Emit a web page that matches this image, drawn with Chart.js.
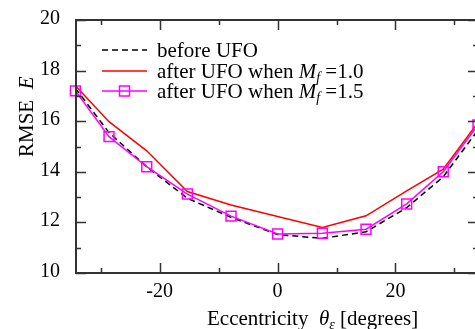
<!DOCTYPE html>
<html><head><meta charset="utf-8">
<script src="https://cdn.jsdelivr.net/npm/chart.js@4/dist/chart.umd.min.js"></script>
<style>html,body{margin:0;padding:0;background:#fff;overflow:hidden;width:475px;height:329px}canvas{display:block}</style>
</head><body>
<canvas id="c" width="478" height="329"></canvas>
<script>
const eccentricity = [-34.3, -28.6, -22.2, -15.3, -7.9, 0, 7.6, 15.0, 21.9, 28.1, 34.0];
const beforeUFO  = [17.3, 15.55, 14.2, 12.95, 12.2, 11.52, 11.37, 11.63, 12.58, 13.8, 15.65];
const afterMf10  = [17.4, 15.98, 14.83, 13.22, 12.69, 12.23, 11.8, 12.26, 13.25, 14.1, 15.95];
const afterMf15  = [17.2, 15.39, 14.2, 13.12, 12.25, 11.54, 11.57, 11.73, 12.73, 14.0, 15.85];
const xTicks = [-30, -20, -10, 0, 10, 20, 30];
const xTickLabels = ['', '-20', '', '0', '', '20', ''];
const yTicks = [10, 11, 12, 13, 14, 15, 16, 17, 18, 19, 20];
const yTickLabels = ['10', '', '12', '', '14', '', '16', '', '18', '', '20'];
const seriesNames = ['before UFO', 'after UFO when M_f =1.0', 'after UFO when M_f =1.5'];

const SERIF = "'Liberation Serif','Times New Roman',serif";
const AXIS = '#333';

function toXY(ys){ return eccentricity.map((x,i)=>({x, y: ys[i]})); }

function drawRich(ctx, x, y, parts){
  for (const p of parts){
    const size = p.size || 21;
    ctx.font = (p.italic ? 'italic ' : '') + size + 'px ' + SERIF;
    ctx.fillText(p.t, x, y + (p.dy || 0));
    x += ctx.measureText(p.t).width;
  }
}

const decor = {
  id: 'decor',
  afterDraw(chart){
    const ctx = chart.ctx, a = chart.chartArea;
    const xs = chart.scales.x, ys = chart.scales.y;
    ctx.save();
    ctx.strokeStyle = AXIS; ctx.lineWidth = 2; ctx.setLineDash([]);
    ctx.strokeRect(a.left, a.top, a.right - a.left, a.bottom - a.top);
    ctx.lineWidth = 1.5;
    ctx.fillStyle = '#000';
    ctx.font = '20px ' + SERIF;
    xTicks.forEach((v,i)=>{
      const px = Math.round(xs.getPixelForValue(v)) + 0.5;
      const len = xTickLabels[i] !== '' ? 10 : 5;
      ctx.beginPath();
      ctx.moveTo(px, a.bottom); ctx.lineTo(px, a.bottom - len);
      ctx.moveTo(px, a.top); ctx.lineTo(px, a.top + len);
      ctx.stroke();
      if (xTickLabels[i]){
        ctx.textAlign = 'center'; ctx.textBaseline = 'alphabetic';
        ctx.fillText(xTickLabels[i], xs.getPixelForValue(v), a.bottom + 24);
      }
    });
    yTicks.forEach((v,i)=>{
      const py = Math.round(ys.getPixelForValue(v)) + 0.5;
      const len = yTickLabels[i] !== '' ? 10 : 5;
      ctx.beginPath();
      ctx.moveTo(a.left, py); ctx.lineTo(a.left + len, py);
      ctx.moveTo(a.right, py); ctx.lineTo(a.right - len, py);
      ctx.stroke();
      if (yTickLabels[i]){
        ctx.textAlign = 'right'; ctx.textBaseline = 'alphabetic';
        ctx.fillText(yTickLabels[i], a.left - 16, ys.getPixelForValue(v) + 4);
      }
    });
    // legend
    ctx.textBaseline = 'alphabetic'; ctx.textAlign = 'left';
    const rows = [
      {y: 50, base: 57, color: '#000', dash: [6,4], marker: false},
      {y: 71, base: 77.5, color: '#ff0000', dash: [], marker: false},
      {y: 91, base: 98, color: '#ff00ff', dash: [], marker: true}
    ];
    rows.forEach((r, i)=>{
      ctx.strokeStyle = r.color; ctx.lineWidth = 1.5; ctx.setLineDash(r.dash);
      ctx.beginPath(); ctx.moveTo(102, r.y); ctx.lineTo(147, r.y); ctx.stroke();
      ctx.setLineDash([]);
      if (r.marker){ ctx.strokeRect(119.5, r.y - 5, 10, 10); }
      const name = seriesNames[i];
      if (name.indexOf('M_f') >= 0){
        const [pre, post] = name.split('M_f');
        drawRich(ctx, 157, r.base, [
          {t: pre}, {t: 'M', italic: true}, {t: 'f', italic: true, size: 14, dy: 4}, {t: post}
        ]);
      } else {
        drawRich(ctx, 157, r.base, [{t: name}]);
      }
    });
    // x title
    drawRich(ctx, 207, 325, [
      {t: 'Eccentricity  '}, {t: 'θ', italic: true}, {t: 'ε', italic: true, size: 14, dy: 4}, {t: ' [degrees]'}
    ]);
    // y title
    ctx.translate(33, 157); ctx.rotate(-Math.PI/2);
    drawRich(ctx, 0, 0, [{t: 'RMSE  '}, {t: 'E', italic: true}]);
    ctx.restore();
  }
};

new Chart(document.getElementById('c'), {
  type: 'line',
  data: {
    datasets: [
      {label: seriesNames[2], data: toXY(afterMf15), borderColor: '#ff00ff', borderWidth: 1.5,
       pointStyle: 'rect', pointRadius: 7, pointHoverRadius: 7, pointBorderColor: '#ff00ff',
       pointBackgroundColor: 'rgba(0,0,0,0)', pointBorderWidth: 1.5, order: 0},
      {label: seriesNames[1], data: toXY(afterMf10), borderColor: '#ff0000', borderWidth: 1.5,
       pointRadius: 0, order: 1},
      {label: seriesNames[0], data: toXY(beforeUFO), borderColor: '#000', borderWidth: 1.5,
       borderDash: [6,4], pointRadius: 0, order: 2}
    ]
  },
  options: {
    responsive: false, animation: false, devicePixelRatio: 1,
    clip: false,
    layout: {autoPadding: false, padding: {top: 20, right: 0, left: 76, bottom: 56}},
    plugins: {legend: {display: false}, tooltip: {enabled: false}},
    elements: {line: {tension: 0, fill: false}},
    scales: {
      x: {type: 'linear', min: -34.2, max: 34.0, display: false,
          afterBuildTicks: s => { s.ticks = xTicks.map(v => ({value: v})); }},
      y: {type: 'linear', min: 10, max: 20, display: false,
          afterBuildTicks: s => { s.ticks = yTicks.map(v => ({value: v})); }}
    }
  },
  plugins: [decor]
});
</script>
</body></html>
